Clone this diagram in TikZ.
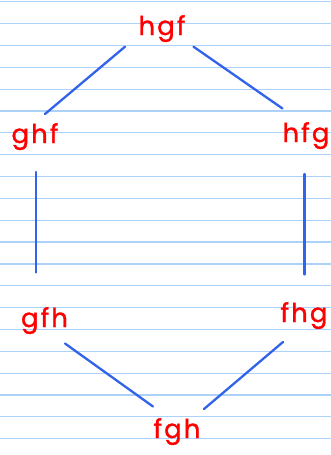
\documentclass[tikz,border=0pt]{standalone}
\usepackage{fontspec}
\setmainfont{Poppins}
\newfontfamily\handfont[LetterSpace=8,FakeBold=1.2]{Poppins}
\definecolor{paperline}{RGB}{172,210,250}
\definecolor{ink}{RGB}{255,0,0}
\definecolor{pen}{RGB}{50,100,235}
\begin{document}
\begin{tikzpicture}[x=1pt,y=-1pt,
  word/.style={text=ink,font=\handfont\fontsize{26}{30}\selectfont,anchor=base,inner sep=0pt},
  edge/.style={draw=pen,line width=2.3pt,line cap=round}]
\useasboundingbox (0,0) rectangle (331,455);
\fill[white] (0,0) rectangle (331,455);
\foreach \k in {0,...,20}{
  \draw[paperline,line width=1.2pt] (0,{1.7+21.85*\k}) -- (331,{1.7+21.85*\k});
}
\node[word] (hgf) at (162,35) {hgf};
\node[word] (ghf) at (35,143) {ghf};
\node[word] (hfg) at (306,142) {hfg};
\node[word] (gfh) at (44.5,327) {gfh};
\node[word] (fhg) at (304,322) {fhg};
\node[word] (fgh) at (177,438) {fgh};
% connector ends
\coordinate (hgf-l) at (125,46.7);
\coordinate (hgf-r) at (193.5,46.7);
\coordinate (ghf-t) at (45,114);
\coordinate (hfg-t) at (282.5,108.5);
\coordinate (ghf-b) at (36,172);
\coordinate (gfh-t) at (36,272.5);
\coordinate (hfg-b) at (304.5,174);
\coordinate (fhg-t) at (304.5,274.5);
\coordinate (gfh-b) at (65,343.5);
\coordinate (fhg-b) at (283,342);
\coordinate (fgh-l) at (153,406.5);
\coordinate (fgh-r) at (204,409);
\draw[edge] (hgf-l) -- (ghf-t);
\draw[edge] (hgf-r) -- (hfg-t);
\draw[edge] (ghf-b) -- (gfh-t);
\draw[edge] (hfg-b) -- (fhg-t);
\draw[edge] (gfh-b) -- (fgh-l);
\draw[edge] (fhg-b) -- (fgh-r);
\end{tikzpicture}
\end{document}
